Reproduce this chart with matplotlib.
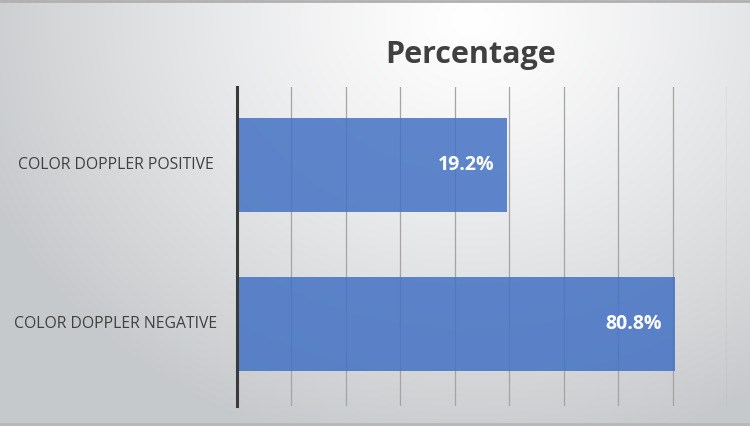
import numpy as np
import matplotlib
matplotlib.use('Agg')
import matplotlib.pyplot as plt
import matplotlib.transforms as mtransforms

categories = ['COLOR DOPPLER NEGATIVE', 'COLOR DOPPLER POSITIVE']
values = [80.8, 19.2]
value_labels = ['80.8%', '19.2%']
xmin, xmax, xstep = -80, 100, 20

fig = plt.figure(figsize=(7.5, 4.26), dpi=100)

# radial grey background, brightest near the title
bg = fig.add_axes([0, 0, 1, 1], zorder=-10)
w, h = 750, 426
yy, xx = np.mgrid[0:h, 0:w]
r = np.sqrt(((xx - 470) / 520.0) ** 2 + ((yy - 20) / 440.0) ** 2)
r = np.clip(r, 0, 1)
top = np.array([1.0, 1.0, 1.0])
edge = np.array([0.78, 0.79, 0.80])
img = top[None, None, :] + (edge - top)[None, None, :] * (r[..., None] ** 1.2)
bg.imshow(img, aspect='auto', extent=[0, 1, 0, 1], origin='upper')
bg.axhline(0.997, color='#b0b0b0', lw=2)
bg.axhline(0.004, color='#b8b8b8', lw=2)
bg.set_xlim(0, 1)
bg.set_ylim(0, 1)
bg.axis('off')

ax = fig.add_axes([237 / 750, 1 - 406 / 426, 490 / 750, 319 / 426])
ax.patch.set_alpha(0)
y = np.arange(len(categories))
ax.barh(y, np.array(values) - xmin, left=xmin, height=0.59,
        color='#4472C4', alpha=0.85, zorder=3)
ax.set_xlim(xmin, xmax)
ax.set_ylim(-0.515, 1.49)
for gx in np.arange(xmin + xstep, xmax + 1, xstep):
    ax.axvline(gx, color='#a4a4a4', lw=0.9, zorder=1)
for s in ['top', 'right', 'bottom']:
    ax.spines[s].set_visible(False)
ax.spines['left'].set_color('#3a3a3a')
ax.spines['left'].set_linewidth(2.2)
ax.spines['left'].set_zorder(4)
ax.set_xticks([])
ax.set_yticks([])

trans = mtransforms.blended_transform_factory(fig.transFigure, ax.transData)
for yi, cat in zip(y, categories):
    ax.text(116 / 750, yi, cat, transform=trans, ha='center', va='center',
            fontsize=11.3, color='#404040', family='Open Sans')
for yi, v, lab in zip(y, values, value_labels):
    ax.annotate(lab, (v, yi), xytext=(-9, 0), textcoords='offset points',
                ha='right', va='center', fontsize=14, fontweight='bold',
                color='white', family='Open Sans', zorder=5)

fig.text(471 / 750, 1 - 55 / 426, 'Percentage', ha='center', va='center',
         fontsize=22, fontweight='bold', color='#404040', family='Open Sans')

fig.savefig('out.png', dpi=100)
